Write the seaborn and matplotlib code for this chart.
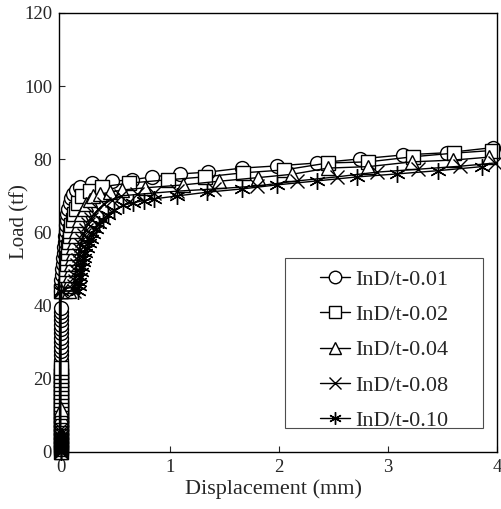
import matplotlib
matplotlib.use("Agg")
import matplotlib.pyplot as plt
from matplotlib.patches import Rectangle
import pandas as pd
import seaborn as sns

labels = ["InD/t-0.01", "InD/t-0.02", "InD/t-0.04", "InD/t-0.08", "InD/t-0.10"]

# elastic (vertical) part: loads at zero displacement
vert_01 = [0, 1.2, 2.4, 3.6, 4.8, 6.0, 7.2, 8.4, 9.6, 10.8, 12.0, 13.2, 14.4, 15.6, 16.8,
           18.0, 19.2, 20.4, 21.6, 22.8, 24.0, 25.2, 26.4, 27.6, 28.8, 30.0, 31.2, 32.4,
           33.6, 34.8, 36.0, 37.2, 38.4, 39.4]
vert_02 = [0, 1.1, 2.2, 3.3, 4.4, 5.5, 6.6, 7.7, 8.8, 9.9, 11.0, 12.1, 13.2, 14.3, 15.4,
           16.5, 17.6, 18.7, 19.8, 20.9, 22.0, 23.0]
vert_04 = [0, 0.9, 1.8, 2.7, 3.6, 4.5, 5.4, 6.3, 7.2, 8.1, 9.0, 9.9, 10.8, 11.7]
vert_08 = [0, 0.7, 1.4, 2.1, 2.8, 3.5, 4.2, 4.9, 5.6, 6.3]
vert_10 = [0, 0.6, 1.2, 1.8, 2.4, 3.0, 3.6, 4.2]

# post-yield curves
disp_01 = [0, 0.004, 0.008, 0.012, 0.016, 0.02, 0.024, 0.028, 0.032, 0.036, 0.04, 0.045,
           0.05, 0.056, 0.063, 0.072, 0.083, 0.097, 0.115, 0.14, 0.18, 0.29, 0.47, 0.65,
           0.84, 1.09, 1.35, 1.66, 1.98, 2.35, 2.74, 3.14, 3.54, 3.96]
load_01 = [44, 45.5, 47, 48.5, 50, 51.5, 53, 54.5, 56, 57.5, 59, 60.5, 62, 63.5, 65, 66.5,
           68, 69.3, 70.5, 71.6, 72.5, 73.4, 74.0, 74.4, 75.2, 76.0, 76.5, 77.6, 78.2, 79.0,
           80.1, 81.2, 81.8, 83.2]

disp_02 = [0, 0.04, 0.043, 0.046, 0.049, 0.052, 0.056, 0.06, 0.064, 0.069, 0.075, 0.082,
           0.09, 0.099, 0.11, 0.123, 0.14, 0.16, 0.2, 0.27, 0.38, 0.63, 0.98, 1.32, 1.67,
           2.05, 2.45, 2.82, 3.23, 3.61, 3.95]
load_02 = [44, 44, 45.5, 47, 48.5, 50, 51.5, 53, 54.5, 56, 57.5, 59, 60.5, 62, 63.5, 65,
           66.5, 68, 70, 71.4, 72.5, 73.5, 74.4, 75.2, 76.3, 77.1, 79.0, 79.3, 80.7, 81.7,
           82.4]

disp_04 = [0, 0.08, 0.083, 0.086, 0.09, 0.094, 0.099, 0.104, 0.11, 0.117, 0.125, 0.134,
           0.145, 0.158, 0.173, 0.19, 0.21, 0.235, 0.265, 0.3, 0.36, 0.45, 0.56, 0.77, 1.12,
           1.45, 1.81, 2.12, 2.45, 2.82, 3.22, 3.6, 3.93]
load_04 = [44, 44, 45.5, 47, 48.5, 50, 51.5, 53, 54.5, 56, 57.5, 59, 60.5, 62, 63.5, 65,
           66.5, 67.8, 69, 70, 70.5, 71, 71.6, 72.2, 73, 74, 75, 75.9, 77.6, 78.0, 79.3,
           79.8, 80.6]

disp_08 = [0, 0.12, 0.124, 0.128, 0.134, 0.14, 0.147, 0.155, 0.164, 0.174, 0.185, 0.198,
           0.213, 0.23, 0.25, 0.275, 0.305, 0.345, 0.4, 0.47, 0.55, 0.7, 0.86, 1.07, 1.41,
           1.80, 2.17, 2.53, 2.9, 3.28, 3.66, 3.98]
load_08 = [44, 44, 45.4, 46.8, 48.2, 49.6, 51, 52.4, 53.8, 55.2, 56.6, 58, 59.4, 60.8, 62.2,
           63.6, 65, 66.4, 67.8, 69, 70, 70.4, 70.8, 71.3, 71.9, 72.7, 74.1, 75.2, 76.5,
           77.3, 78.1, 79.0]

disp_10 = [0, 0.16, 0.165, 0.17, 0.178, 0.186, 0.195, 0.205, 0.216, 0.228, 0.242, 0.258,
           0.276, 0.297, 0.32, 0.35, 0.385, 0.43, 0.49, 0.57, 0.66, 0.76, 0.86, 1.07, 1.34,
           1.66, 1.98, 2.35, 2.72, 3.08, 3.46, 3.86]
load_10 = [44, 44, 45.3, 46.6, 47.9, 49.2, 50.5, 51.8, 53.1, 54.4, 55.7, 57, 58.3, 59.6,
           60.9, 62.2, 63.5, 64.8, 66.1, 67.4, 68.1, 68.7, 69.2, 70.0, 71.0, 71.9, 73.0,
           74.1, 75.2, 76.0, 76.9, 78.0]

x_ticks = [0, 1, 2, 3, 4]
y_ticks = [0, 20, 40, 60, 80, 100, 120]

series = [
    (labels[0], vert_01, disp_01, load_01),
    (labels[1], vert_02, disp_02, load_02),
    (labels[2], vert_04, disp_04, load_04),
    (labels[3], vert_08, disp_08, load_08),
    (labels[4], vert_10, disp_10, load_10),
]
markers = ['o', 's', '^', 'x', (6, 2, 0)]
msizes = [10, 9.5, 10, 10, 12]

sns.set_style("ticks")
plt.rcParams['font.family'] = ['Liberation Serif', 'DejaVu Serif']

fig = plt.figure(figsize=(5.02, 5.09), dpi=100)
ax = fig.add_axes([0.1175, 0.112, 0.8725, 0.8625])

for (lab, vert, disp, load), m, ms in zip(series, markers, msizes):
    d = [0.0] * len(vert) + disp
    l = vert + load
    df = pd.DataFrame({"Displacement": d, "Load": l})
    sns.lineplot(data=df, x="Displacement", y="Load", sort=False, estimator=None,
                 ax=ax, color="black", linewidth=1.0, marker=m, markersize=ms,
                 markerfacecolor="white", markeredgecolor="black",
                 markeredgewidth=1.0, clip_on=False, label=lab)

ax.set_xlim(-0.015, 4.0)
ax.set_ylim(0, 120)
ax.set_xticks(x_ticks)
ax.set_yticks(y_ticks)
ax.tick_params(direction="in", length=4, width=0.8, labelsize=13.5, pad=5)
for s in ax.spines.values():
    s.set_visible(True)
    s.set_linewidth(1.0)
    s.set_color("black")

ax.set_xlabel("Displacement (mm)", fontsize=16)
ax.set_ylabel("Load (tf)", fontsize=15)
ax.xaxis.set_label_coords(0.49, -0.063)
ax.yaxis.set_label_coords(-0.068, 0.525)

# legend frame (drawn separately to get the wide side padding of the original)
ax.add_patch(Rectangle((0.517, 0.055), 0.451, 0.387, transform=ax.transAxes,
                       facecolor="white", edgecolor="0.3", linewidth=0.8, zorder=5))
leg = ax.legend(loc="center", bbox_to_anchor=(0.742, 0.232), borderaxespad=0,
                fontsize=16, frameon=False, handlelength=1.35, handletextpad=0.22,
                labelspacing=0.66, borderpad=0.2)
leg.set_zorder(6)
for h in leg.legend_handles:
    h.set_markersize(9)

fig.savefig("out.png", dpi=100)
